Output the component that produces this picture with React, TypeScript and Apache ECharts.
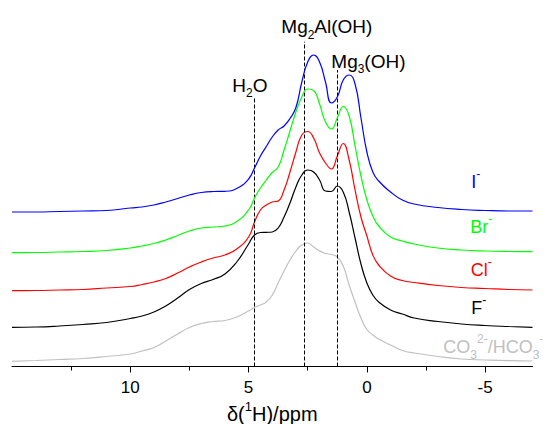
import React, { useEffect, useRef } from "react";
import * as echarts from "echarts";

// chemical shift grid (ppm)
const ppm = [15, 14, 13, 12, 11, 10, 9.5, 9, 8.5, 8, 7.5, 7, 6.5, 6, 5.5, 5,
  4.75, 4.5, 4.25, 4, 3.75, 3.5, 3.25, 3, 2.75, 2.5, 2.25, 2, 1.75, 1.5, 1.25, 1, 0.75, 0.5, 0.25, 0,
  -0.25, -0.5, -1, -1.5, -2, -3, -4, -5, -6, -7];

// stacked intensities (arbitrary units, offsets included)
const iodide = [154.5, 154.5, 155, 155.5, 156, 158.5, 159.5, 161.5, 164.5, 168, 171.5, 174, 175, 175.2, 178, 187.5,
  198.5, 210.5, 220, 229.5, 236.5, 240.5, 248, 259, 284.5, 304.5, 311.5, 304.5, 284.5, 263.5, 269.5, 286.5, 291.5, 282.5, 248.5, 214.5,
  194.5, 185.5, 174.5, 166.5, 162.5, 159, 157, 156, 155.5, 155.5];
const bromide = [113.8, 114, 114.5, 115, 116, 118.5, 120.5, 123, 126.5, 131, 135.5, 138.5, 139.5, 140.5, 145, 156.5,
  168.5, 178.5, 186.5, 194, 199.5, 216.5, 235.5, 254.5, 269.5, 277.5, 276, 262.5, 244.5, 237.5, 248.5, 260, 250.5, 220.5, 190.5, 166.5,
  150.5, 140.5, 129.5, 125.5, 122.5, 118.5, 116.5, 115.5, 115, 114.8];
const chloride = [75.8, 76, 76.5, 77, 78.5, 80, 82, 84.5, 88, 93.5, 99.5, 104.5, 108.5, 111.5, 117.5, 129.5,
  144.5, 156.5, 161.5, 164.5, 165.5, 176.5, 194.5, 214.5, 231.5, 235, 228.5, 213.5, 203.5, 197.5, 210.5, 223, 206.5, 176.5, 149.5, 130.5,
  111.5, 101.5, 90.5, 86, 84, 81, 79, 78, 77, 76.5];
const fluoride = [39.2, 39.5, 40.5, 42, 44, 48, 50.5, 54.5, 60.5, 68.5, 77, 83, 87, 92.5, 104.5, 122.5,
  131.5, 134, 134.2, 134.5, 138.5, 149.5, 163.5, 179.5, 191.5, 196.5, 194.5, 186.5, 175.5, 175, 180.5, 174.5, 154.5, 128.5, 102.5, 83.5,
  71.5, 64.5, 56.5, 52.5, 48.5, 45, 42.5, 41, 40, 39.2];
const carbonate = [5.2, 6, 7, 8, 10, 12.5, 15.5, 19, 25.5, 32.5, 39, 43, 45, 46, 49.5, 55.5,
  59, 61.5, 64.5, 71.5, 83.5, 95.5, 106.5, 115.5, 121.5, 123.5, 119.5, 115.5, 113, 112, 109.5, 100.5, 81.5, 64.5, 48.5, 37,
  31.5, 27.5, 21.5, 16, 13.5, 10, 7.5, 6.5, 5.8, 5.5];

// reference lines: position (ppm) and top (intensity units)
const peakPpm = [4.75, 2.65, 1.25];
const peakTop = [269.8, 324.8, 296.5];

const majorTicks = [10, 5, 0, -5];
const minorTicks = [12.5, 7.5, 2.5, -2.5];

const seriesNames = ["CO3", "F", "Cl", "Br", "I"];
const seriesColors = ["#c0c0c0", "#000000", "#ff0000", "#00ff00", "#0000ff"];
const seriesValues = [carbonate, fluoride, chloride, bromide, iodide];

const FONT = 'Arial, "Liberation Sans", Helvetica, sans-serif';

function rich(size: number, color: string) {
  return {
    m: { fontSize: size, lineHeight: 28, fontFamily: FONT, fill: color },
    b: { fontSize: 12, lineHeight: 12, verticalAlign: "bottom", fontFamily: FONT, fill: color },
    p: { fontSize: 12, lineHeight: 19, verticalAlign: "top", fontFamily: FONT, fill: color },
  };
}

function textEl(text: string, x: number, y: number, size: number, color: string) {
  return {
    type: "text",
    x,
    y,
    silent: true,
    z: 100,
    style: {
      text,
      rich: rich(size, color),
      fill: color,
      fontSize: size,
      fontFamily: FONT,
      align: "left",
      verticalAlign: "top",
    },
  };
}

export default function App() {
  const ref = useRef<HTMLDivElement>(null);
  useEffect(() => {
    document.body.style.margin = "0";
    if (!ref.current) return;
    const chart = echarts.init(ref.current, undefined, { renderer: "svg" });
    const series: any[] = seriesValues.map((vals, si) => ({
      name: seriesNames[si],
      type: "line",
      data: ppm.map((p, i) => [p, vals[i]]),
      smooth: 0.5,
      showSymbol: false,
      symbol: "none",
      lineStyle: { color: seriesColors[si], width: 1.2 },
      itemStyle: { color: seriesColors[si] },
      z: 2 + si,
    }));
    series[4].markLine = {
      silent: true,
      animation: false,
      symbol: ["none", "none"],
      label: { show: false },
      lineStyle: { color: "#000", type: [4, 2], width: 1 },
      data: peakPpm.map((p, i) => [{ coord: [p, 0] }, { coord: [p, peakTop[i]] }]),
    };
    const option: any = {
      animation: false,
      textStyle: { fontFamily: FONT },
      grid: { left: 12, right: 13.5, top: 0, bottom: 57.5, containLabel: false, outerBoundsMode: "none" },
      xAxis: [
        {
          type: "value",
          min: -7,
          max: 15,
          inverse: true,
          position: "bottom",
          axisLine: { show: true, onZero: false, lineStyle: { color: "#000", width: 1 } },
          axisTick: { show: true, customValues: majorTicks, length: 6, lineStyle: { color: "#000", width: 1 } },
          axisLabel: { customValues: majorTicks, margin: 12, fontSize: 17, color: "#000", fontFamily: FONT },
          splitLine: { show: false },
          name: "{m|δ(}{p|1}{m|H)/ppm}",
          nameLocation: "middle",
          nameGap: 32.5,
          nameTextStyle: {
            color: "#000",
            rich: {
              m: { fontSize: 20, lineHeight: 28, fontFamily: FONT, color: "#000" },
              p: { fontSize: 13, lineHeight: 13, verticalAlign: "top", fontFamily: FONT, color: "#000" },
            },
          },
        },
        {
          type: "value",
          min: -7,
          max: 15,
          inverse: true,
          position: "bottom",
          axisLine: { show: false, onZero: false },
          axisTick: { show: true, customValues: minorTicks, length: 4, lineStyle: { color: "#000", width: 1 } },
          axisLabel: { show: false },
          splitLine: { show: false },
        },
      ],
      yAxis: { type: "value", min: 0, max: 366.5, show: false },
      series,
      graphic: [
        textEl("{m|H}{b|2}{m|O}", 232.3, 71.1, 19, "#000"),
        textEl("{m|Mg}{b|2}{m|Al(OH)}", 281.3, 12.7, 19, "#000"),
        textEl("{m|Mg}{b|3}{m|(OH)}", 331.3, 47.1, 19, "#000"),
        textEl("{m|I}{p|-}", 471.2, 167.5, 18, "#0000ff"),
        textEl("{m|Br}{p|-}", 470.2, 213.3, 18, "#00ff00"),
        textEl("{m|Cl}{p|-}", 470.7, 255.8, 18, "#ff0000"),
        textEl("{m|F}{p|-}", 471.2, 293.8, 18, "#000000"),
        textEl("{m|CO}{b|3}{p|2-}{m|/HCO}{b|3}{p|-}", 443.3, 333.1, 18, "#c0c0c0"),
      ],
    };
    chart.setOption(option);
    return () => chart.dispose();
  }, []);
  return <div ref={ref} style={{ width: 546, height: 424 }} />;
}
